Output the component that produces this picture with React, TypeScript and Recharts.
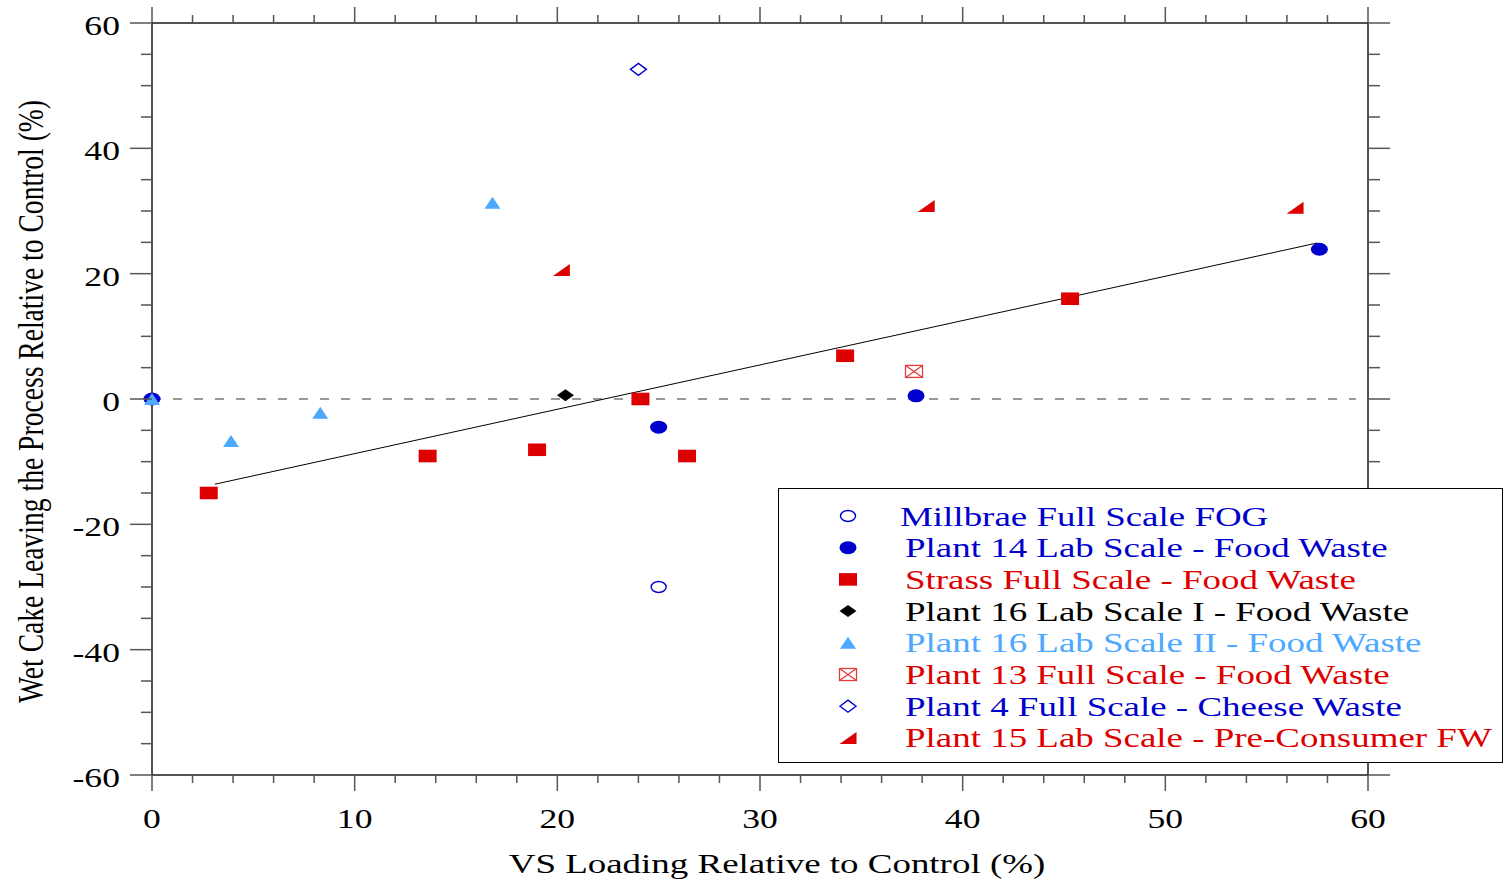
import { ScatterChart, Scatter, XAxis, YAxis, ReferenceLine, Legend } from 'recharts';

// values
const millbrae = [{ x: 25.0, y: -30.0 }];
const plant14 = [
  { x: 0, y: 0 },
  { x: 25.0, y: -4.5 },
  { x: 37.7, y: 0.5 },
  { x: 57.6, y: 23.9 },
];
const strass = [
  { x: 2.8, y: -15.0 },
  { x: 13.6, y: -9.1 },
  { x: 19.0, y: -8.1 },
  { x: 24.1, y: 0 },
  { x: 26.4, y: -9.1 },
  { x: 34.2, y: 6.9 },
  { x: 45.3, y: 16.0 },
];
const plant16a = [{ x: 20.4, y: 0.6 }];
const plant16b = [
  { x: 0, y: 0 },
  { x: 3.9, y: -6.7 },
  { x: 8.3, y: -2.2 },
  { x: 16.8, y: 31.3 },
];
const plant13 = [{ x: 37.6, y: 4.4 }];
const plant4 = [{ x: 24.0, y: 52.6 }];
const plant15 = [
  { x: 20.2, y: 20.6 },
  { x: 38.2, y: 30.8 },
  { x: 56.4, y: 30.5 },
];
const trendLine = [
  { x: 3.1, y: -13.6 },
  { x: 57.5, y: 24.9 },
];
const zeroLine = [
  { x: 0, y: 0 },
  { x: 59.4, y: 0 },
];

const xTicks = [0, 2, 4, 6, 8, 10, 12, 14, 16, 18, 20, 22, 24, 26, 28, 30, 32, 34, 36, 38, 40, 42, 44, 46, 48, 50, 52, 54, 56, 58, 60];
const yTicks = [-60, -55, -50, -45, -40, -35, -30, -25, -20, -15, -10, -5, 0, 5, 10, 15, 20, 25, 30, 35, 40, 45, 50, 55, 60];

const xTitle = 'VS Loading Relative to Control (%)';
const yTitle = 'Wet Cake Leaving the Process Relative to Control (%)';

const BLUE = '#0000cc';
const RED = '#dd0000';
const LIGHT = '#4da9ff';
const XBOX = '#e23c3c';
const AXIS = '#1a1a1a';
const TICK = '#555';
const FONT = '"Liberation Serif", "Times New Roman", serif';
const SX = 1.32;

const W = 1505;
const H = 882;
const margin = { top: 22, right: 136, bottom: 47, left: 92 };
const Y_AXIS_W = 60;
const X_AXIS_H = 60;
// plot box size, used to mirror ticks onto the top and right frame
const PLOT_W = W - margin.left - margin.right - Y_AXIS_W - 1;
const PLOT_H = H - margin.top - margin.bottom - X_AXIS_H - 1;

type Marker = (cx: number, cy: number) => JSX.Element;

const openCircle: Marker = (cx, cy) => (
  <ellipse cx={cx} cy={cy} rx={7.5} ry={5.5} fill="none" stroke={BLUE} strokeWidth={1.4} />
);
const dot: Marker = (cx, cy) => <ellipse cx={cx} cy={cy} rx={8.5} ry={6.5} fill={BLUE} />;
const square: Marker = (cx, cy) => <rect x={cx - 9} y={cy - 6.3} width={18} height={12.6} fill={RED} />;
const diamond: Marker = (cx, cy) => (
  <polygon points={`${cx - 8.5},${cy} ${cx},${cy - 6} ${cx + 8.5},${cy} ${cx},${cy + 6}`} fill="#000" />
);
const triangle: Marker = (cx, cy) => (
  <polygon points={`${cx - 8},${cy + 6} ${cx + 8},${cy + 6} ${cx},${cy - 6}`} fill={LIGHT} />
);
const xBox: Marker = (cx, cy) => (
  <g stroke={XBOX} strokeWidth={1.3} fill="none">
    <rect x={cx - 8.5} y={cy - 6} width={17} height={12} />
    <line x1={cx - 8.5} y1={cy - 6} x2={cx + 8.5} y2={cy + 6} />
    <line x1={cx - 8.5} y1={cy + 6} x2={cx + 8.5} y2={cy - 6} />
  </g>
);
const openDiamond: Marker = (cx, cy) => (
  <polygon
    points={`${cx - 8},${cy} ${cx},${cy - 6} ${cx + 8},${cy} ${cx},${cy + 6}`}
    fill="none"
    stroke={BLUE}
    strokeWidth={1.4}
  />
);
const wedge: Marker = (cx, cy) => (
  <polygon points={`${cx - 8.5},${cy + 6} ${cx + 8.5},${cy + 6} ${cx + 8.5},${cy - 6}`} fill={RED} />
);

const series = [
  { name: 'Millbrae Full Scale FOG', data: millbrae, color: BLUE, marker: openCircle },
  { name: 'Plant 14 Lab Scale - Food Waste', data: plant14, color: BLUE, marker: dot },
  { name: 'Strass Full Scale - Food Waste', data: strass, color: RED, marker: square },
  { name: 'Plant 16 Lab Scale I - Food Waste', data: plant16a, color: '#000', marker: diamond },
  { name: 'Plant 16 Lab Scale II - Food Waste', data: plant16b, color: LIGHT, marker: triangle },
  { name: 'Plant 13 Full Scale - Food Waste', data: plant13, color: RED, marker: xBox },
  { name: 'Plant 4 Full Scale - Cheese Waste', data: plant4, color: BLUE, marker: openDiamond },
  { name: 'Plant 15 Lab Scale - Pre-Consumer FW', data: plant15, color: RED, marker: wedge },
];

function StretchText({ x, y, anchor, size, fill = '#000', children }: any) {
  return (
    <text
      transform={`translate(${x},${y}) scale(${SX},1)`}
      textAnchor={anchor}
      fontSize={size}
      fontFamily={FONT}
      fill={fill}
    >
      {children}
    </text>
  );
}

// bottom axis tick: outward tick + label, and the matching tick on the top frame
function BottomTick({ x, y, payload }: any) {
  const major = payload.value % 10 === 0;
  const len = major ? 16 : 8;
  const top = y - PLOT_H;
  return (
    <g>
      <line x1={x} y1={y} x2={x} y2={y + len} stroke={TICK} strokeWidth={1.5} />
      <line x1={x} y1={top} x2={x} y2={top - len} stroke={TICK} strokeWidth={1.5} />
      {major && (
        <StretchText x={x} y={y + 53} anchor="middle" size={27}>
          {payload.value}
        </StretchText>
      )}
    </g>
  );
}

// left axis tick: outward tick + label, and the matching tick on the right frame
function LeftTick({ x, y, payload }: any) {
  const major = payload.value % 20 === 0;
  const right = x + PLOT_W;
  return (
    <g>
      <line x1={x} y1={y} x2={x - (major ? 22 : 11)} y2={y} stroke={TICK} strokeWidth={1.5} />
      <line x1={right} y1={y} x2={right + (major ? 22 : 12)} y2={y} stroke={TICK} strokeWidth={1.5} />
      {major && (
        <StretchText x={x - 32} y={y + 12} anchor="end" size={27}>
          {payload.value}
        </StretchText>
      )}
    </g>
  );
}

function LegendBox() {
  return (
    <div
      style={{
        width: 725,
        height: 275,
        boxSizing: 'border-box',
        border: '1px solid #000',
        background: '#fff',
      }}
    >
      <svg width={723} height={273} style={{ display: 'block' }}>
        {series.map((s, i) => {
          const cy = 27 + i * 31.7;
          return (
            <g key={s.name}>
              {s.marker(69, cy)}
              <StretchText x={i === 0 ? 121 : 126} y={cy + 9.5} anchor="start" size={28} fill={s.color}>
                {s.name}
              </StretchText>
            </g>
          );
        })}
      </svg>
    </div>
  );
}

export default function App() {
  return (
    <div style={{ position: 'absolute', left: 0, top: 0, background: '#fff' }}>
      <ScatterChart width={W} height={H} margin={margin}>
        <XAxis
          xAxisId="bottom"
          dataKey="x"
          type="number"
          domain={[0, 60]}
          ticks={xTicks}
          interval={0}
          height={X_AXIS_H}
          tickSize={0}
          tickMargin={0}
          tickLine={false}
          axisLine={{ stroke: AXIS, strokeWidth: 1.5 }}
          tick={<BottomTick />}
        />
        <XAxis
          xAxisId="top"
          orientation="top"
          dataKey="x"
          type="number"
          domain={[0, 60]}
          height={1}
          tickLine={false}
          tick={false}
          axisLine={{ stroke: AXIS, strokeWidth: 1.5 }}
        />
        <YAxis
          yAxisId="left"
          dataKey="y"
          type="number"
          domain={[-60, 60]}
          ticks={yTicks}
          interval={0}
          width={Y_AXIS_W}
          tickSize={0}
          tickMargin={0}
          tickLine={false}
          axisLine={{ stroke: AXIS, strokeWidth: 1.5 }}
          tick={<LeftTick />}
        />
        <YAxis
          yAxisId="right"
          orientation="right"
          dataKey="y"
          type="number"
          domain={[-60, 60]}
          width={1}
          tickLine={false}
          tick={false}
          axisLine={{ stroke: AXIS, strokeWidth: 1.5 }}
        />
        <ReferenceLine
          xAxisId="bottom"
          yAxisId="left"
          segment={zeroLine}
          stroke="#777"
          strokeWidth={1.5}
          strokeDasharray="9 12"
          ifOverflow="visible"
        />
        <ReferenceLine
          xAxisId="bottom"
          yAxisId="left"
          segment={trendLine}
          stroke="#000"
          strokeWidth={1}
          ifOverflow="visible"
        />
        {series.map((s) => (
          <Scatter
            key={s.name}
            name={s.name}
            data={s.data}
            xAxisId="bottom"
            yAxisId="left"
            fill={s.color}
            isAnimationActive={false}
            shape={(p: any) => s.marker(p.cx, p.cy)}
          />
        ))}
        <Legend
          layout="horizontal"
          verticalAlign="middle"
          align="center"
          wrapperStyle={{ left: 778, top: 488, width: 725, height: 275 }}
          content={() => <LegendBox />}
        />
        <text
          transform={`translate(777,873) scale(${SX},1)`}
          textAnchor="middle"
          fontSize={28}
          fontFamily={FONT}
          fill="#000"
        >
          {xTitle}
        </text>
        <text
          transform="translate(43,401.5) rotate(-90) scale(1,1.32)"
          textAnchor="middle"
          fontSize={27}
          fontFamily={FONT}
          textLength={603}
          lengthAdjust="spacingAndGlyphs"
          fill="#000"
        >
          {yTitle}
        </text>
      </ScatterChart>
    </div>
  );
}
